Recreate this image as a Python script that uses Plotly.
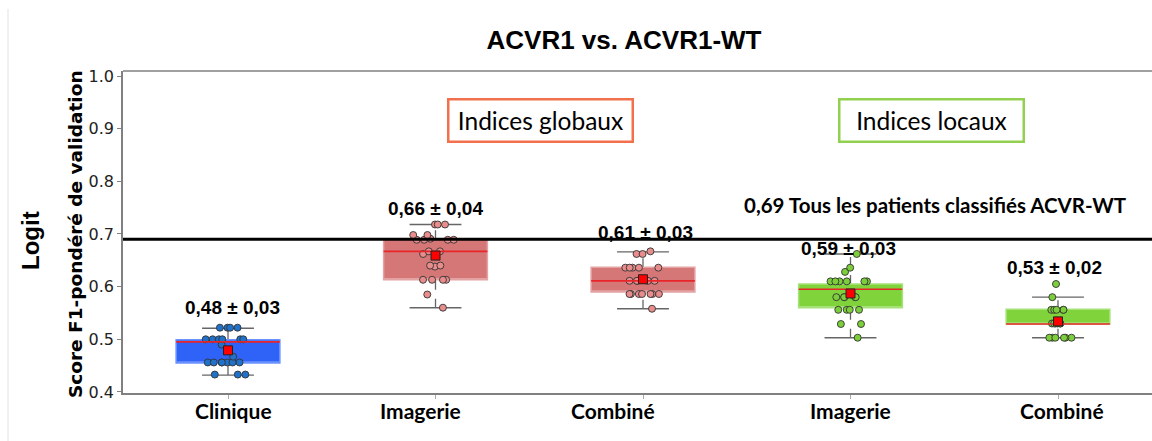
import plotly.graph_objects as go

# ---- data -------------------------------------------------------------
categories = ["Clinique", "Imagerie", "Combiné", "Imagerie", "Combiné"]

clinique = [0.522, 0.522, 0.522, 0.522, 0.500, 0.500, 0.500, 0.500, 0.500, 0.500,
            0.490, 0.467, 0.456, 0.456, 0.456, 0.456, 0.456, 0.456, 0.456,
            0.433, 0.433, 0.433]
imagerie_glob = [0.718, 0.718, 0.718, 0.698, 0.698, 0.689, 0.689, 0.689, 0.689, 0.691,
                 0.667, 0.667, 0.662, 0.640, 0.638, 0.640, 0.613, 0.613, 0.613, 0.613,
                 0.585, 0.560]
combine_glob = [0.667, 0.662, 0.662, 0.636, 0.636, 0.636, 0.636, 0.636,
                0.611, 0.611, 0.611, 0.611, 0.611,
                0.586, 0.586, 0.586, 0.586, 0.586, 0.586, 0.586, 0.558]
imagerie_loc = [0.662, 0.636, 0.628, 0.610, 0.610, 0.610, 0.610, 0.610, 0.610,
                0.580, 0.580, 0.580, 0.580, 0.580, 0.556, 0.556, 0.556, 0.556,
                0.529, 0.529, 0.503]
combine_loc = [0.605, 0.580, 0.556, 0.556, 0.556, 0.556, 0.556,
               0.530, 0.530, 0.530, 0.530, 0.530, 0.530,
               0.503, 0.503, 0.503, 0.503, 0.503, 0.503]
groups = [clinique, imagerie_glob, combine_glob, imagerie_loc, combine_loc]

# box statistics
q1 = [0.455, 0.613, 0.590, 0.560, 0.529]
median = [0.495, 0.667, 0.611, 0.595, 0.529]
q3 = [0.499, 0.690, 0.637, 0.605, 0.557]
whisk_lo = [0.432, 0.560, 0.558, 0.503, 0.503]
whisk_hi = [0.521, 0.718, 0.666, 0.662, 0.580]
means = [0.479, 0.659, 0.614, 0.587, 0.534]
stds = [0.03, 0.04, 0.03, 0.03, 0.02]

baseline = 0.69
baseline_text = "0,69 Tous les patients classifiés ACVR-WT"

# ---- styles -----------------------------------------------------------
box_fill = ["#2f62f7", "#d67777", "#d67777", "#80d33b", "#80d33b"]
box_edge = ["#6b93ff", "#e4a3a3", "#e4a3a3", "#a6e27a", "#a6e27a"]
point_col = ["#2071c9", "#e88c8c", "#e88c8c", "#7ccf3a", "#7ccf3a"]
label_dx = [5, -15, -30, 0, 4]          # category label offsets (px)
value_dx = [4, 0, 2, -2, -4]            # value label offsets (px)
value_dy = [43, 47, 47, 45, 54]
BOX_W = 0.5
CAP_HW = 0.125

fig = go.Figure()
shapes = []
xs = list(range(len(categories)))

for i in xs:
    # whiskers (dashed) and caps, behind the boxes
    for a, b in ((q3[i], whisk_hi[i]), (whisk_lo[i], q1[i])):
        shapes.append(dict(type="line", xref="x", yref="y", layer="below",
                           x0=i, x1=i, y0=a, y1=b,
                           line=dict(color="#666666", width=1.3, dash="dash")))
    for v in (whisk_lo[i], whisk_hi[i]):
        shapes.append(dict(type="line", xref="x", yref="y", layer="below",
                           x0=i - CAP_HW, x1=i + CAP_HW, y0=v, y1=v,
                           line=dict(color="#666666", width=1.4)))

    # filled box
    fig.add_trace(go.Box(
        x=[i], q1=[q1[i]], median=[q1[i]], q3=[q3[i]],
        lowerfence=[q1[i]], upperfence=[q3[i]],
        width=BOX_W, fillcolor=box_fill[i],
        line=dict(color=box_edge[i], width=1.5),
        boxpoints=False, showlegend=False, hoverinfo="skip"))

    # individual scores, jittered
    fig.add_trace(go.Box(
        x=[i] * len(groups[i]), y=groups[i],
        width=BOX_W, boxpoints="all", jitter=0.5, pointpos=0,
        fillcolor="rgba(0,0,0,0)", line=dict(color="rgba(0,0,0,0)", width=0),
        marker=dict(color=point_col[i], size=7,
                    line=dict(color="#333333", width=0.9)),
        showlegend=False))

# medians
for i in xs:
    fig.add_trace(go.Scatter(
        x=[i - BOX_W / 2, i + BOX_W / 2], y=[median[i], median[i]],
        mode="lines", line=dict(color="#e8262a", width=1.6),
        showlegend=False, hoverinfo="skip"))

# means
fig.add_trace(go.Scatter(
    x=xs, y=means, mode="markers",
    marker=dict(symbol="square", size=9, color="#ff0000",
                line=dict(color="#222222", width=1)),
    showlegend=False))

def fr(v):
    return f"{v:.2f}".replace(".", ",")

annotations = []
for i in xs:
    annotations.append(dict(
        x=i, y=means[i], xref="x", yref="y", showarrow=False,
        xanchor="center", yanchor="middle",
        text=f"<b>{fr(means[i])} ± {fr(stds[i])}</b>",
        xshift=value_dx[i], yshift=value_dy[i],
        font=dict(family="Liberation Sans", size=19, color="black")))
    annotations.append(dict(
        x=i, y=0, xref="x", yref="paper", showarrow=False,
        text=f"<b>{categories[i]}</b>", xshift=label_dx[i], yshift=-17,
        xanchor="center", yanchor="middle",
        font=dict(family="Lato", size=21, color="black")))

# reference line and its caption
shapes.append(dict(type="line", xref="paper", yref="y", layer="above",
                   x0=0, x1=1, y0=baseline, y1=baseline,
                   line=dict(color="black", width=3)))
annotations.append(dict(
    x=(935 - 123) / 1029, y=baseline, xref="paper", yref="y", showarrow=False,
    xanchor="center", yanchor="middle",
    text=f"<b>{baseline_text}</b>", yshift=34,
    font=dict(family="Lato", size=20.5, color="black")))

# group headers
for txt, xc, col in (("Indices globaux", 540, "#f2704c"),
                     ("Indices locaux", 931, "#92d050")):
    annotations.append(dict(
        x=(xc - 123) / 1029, y=(393 - 120.5) / 322, xref="paper", yref="paper",
        xanchor="center", yanchor="middle",
        showarrow=False, text=txt, width=182, height=40,
        bordercolor=col, borderwidth=2.5, borderpad=0, bgcolor="white",
        font=dict(family="Lato", size=24.5, color="black")))

# axis titles
annotations.append(dict(
    x=(75 - 123) / 1029, y=(393 - 234) / 322, xref="paper", yref="paper",
    xanchor="center", yanchor="middle",
    showarrow=False, textangle=-90, text="<b>Score F1-pondéré de validation</b>",
    font=dict(family="DejaVu Sans", size=18.5, color="black")))
annotations.append(dict(
    x=(30 - 123) / 1029, y=(393 - 241) / 322, xref="paper", yref="paper",
    xanchor="center", yanchor="middle",
    showarrow=False, textangle=-90, text="<b>Logit</b>",
    font=dict(family="Liberation Sans", size=24, color="black")))

# frame: top border and a faint page edge on the left
shapes.append(dict(type="line", xref="paper", yref="paper", x0=0, x1=1, y0=1, y1=1,
                   line=dict(color="#808080", width=1.5)))
shapes.append(dict(type="line", xref="paper", yref="paper",
                   x0=(8 - 123) / 1029, x1=(8 - 123) / 1029,
                   y0=(393 - 441) / 322, y1=(393 - 9) / 322,
                   line=dict(color="#e2e2e2", width=1)))

fig.update_layout(
    width=1152, height=441,
    margin=dict(l=123, r=0, t=71, b=48),
    paper_bgcolor="white", plot_bgcolor="white",
    boxmode="overlay",
    title=dict(text="<b>ACVR1 vs. ACVR1-WT</b>", x=624 / 1152, xanchor="center",
               xref="container", y=1 - 40 / 441, yanchor="middle", yref="container",
               font=dict(family="Liberation Sans", size=26, color="black")),
    shapes=shapes, annotations=annotations,
    xaxis=dict(range=[-0.506, 4.453], tickvals=xs, ticktext=["" for _ in xs],
               ticks="outside", ticklen=4, tickcolor="#aaaaaa",
               showline=True, linecolor="#808080", linewidth=1.5,
               showgrid=False, zeroline=False),
    yaxis=dict(range=[0.398, 1.0095], tickvals=[0.4, 0.5, 0.6, 0.7, 0.8, 0.9, 1.0],
               ticktext=["0.4", "0.5", "0.6", "0.7", "0.8", "0.9", "1.0"],
               ticks="outside", ticklen=4, tickcolor="#808080",
               tickfont=dict(family="DejaVu Sans", size=16, color="#222222"),
               showline=True, linecolor="#808080", linewidth=1.5,
               showgrid=False, zeroline=False),
)

fig.write_html("out.html")
